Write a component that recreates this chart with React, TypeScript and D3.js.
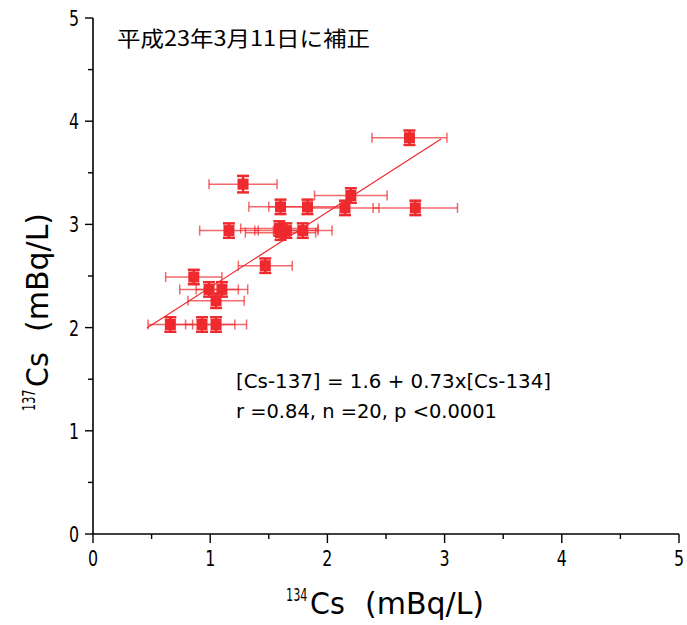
import React from "react";
import * as d3 from "d3";

const cs134 = [2.70, 1.28, 2.20, 1.60, 1.83, 2.15, 2.75, 1.16, 1.59, 1.60, 1.65, 1.79, 1.47, 0.86, 0.99, 1.10, 1.05, 0.66, 0.93, 1.05];
const cs137 = [3.84, 3.39, 3.28, 3.17, 3.17, 3.16, 3.16, 2.94, 2.96, 2.92, 2.94, 2.94, 2.60, 2.49, 2.37, 2.37, 2.26, 2.03, 2.03, 2.03];
const cs134Err = [0.32, 0.29, 0.31, 0.27, 0.33, 0.29, 0.36, 0.25, 0.33, 0.30, 0.27, 0.25, 0.23, 0.24, 0.25, 0.22, 0.24, 0.19, 0.28, 0.26];
const cs137Err = [0.07, 0.08, 0.07, 0.07, 0.07, 0.07, 0.07, 0.07, 0.07, 0.07, 0.07, 0.07, 0.07, 0.07, 0.07, 0.07, 0.07, 0.07, 0.07, 0.07];
const fitIntercept = 1.66;
const fitSlope = 0.73;
const fitRange = [0.46, 2.97];
const majorTicks = [0, 1, 2, 3, 4, 5];
const minorTicks = [0.5, 1.5, 2.5, 3.5, 4.5];
const title = "平成23年3月11日に補正";
const eqLine1 = "[Cs-137] = 1.6 + 0.73x[Cs-134]";
const eqLine2 = "r =0.84, n =20, p <0.0001";
const xTitle = ["134", "Cs", "(mBq/L)"];
const yTitle = ["137", "Cs", "(mBq/L)"];

const narrow = "'DejaVu Sans', sans-serif";

function AxisTitle({ parts, transform }: { parts: string[]; transform: string }) {
  return (
    <g transform={transform} fontFamily={narrow}>
      <g transform="translate(0,-13) scale(0.66,1)">
        <text x={0} y={0} fontSize={17}>{parts[0]}</text>
      </g>
      <g transform="translate(24,0) scale(0.95,1)">
        <text x={0} y={0} fontSize={30}>{parts[1]}</text>
      </g>
      <g transform="translate(79,0)">
        <text x={0} y={0} fontSize={30}>{parts[2]}</text>
      </g>
    </g>
  );
}

export default function App() {
  const W = 687, H = 625;
  const L = 93, R = 679, T = 18, B = 534;
  const x = d3.scaleLinear().domain([0, 5]).range([L, R]);
  const y = d3.scaleLinear().domain([0, 5]).range([B, T]);
  const red = "#ee2a2e";
  const line = d3.line<number>().x(v => x(v)).y(v => y(fitIntercept + fitSlope * v));

  return (
    <svg width={W} height={H} style={{ position: "fixed", left: 0, top: 0, background: "#fff" }}>
      {/* axes */}
      <line x1={L} y1={T} x2={L} y2={B} stroke="#000" strokeWidth={1.6} />
      <line x1={L} y1={B} x2={R} y2={B} stroke="#000" strokeWidth={1.6} />
      {majorTicks.map(t => (
        <g key={"y" + t}>
          <line x1={L - 8} x2={L} y1={y(t)} y2={y(t)} stroke="#000" strokeWidth={1.4} />
          <g transform={`translate(${L - 14},${y(t) + 8}) scale(0.72,1)`}>
            <text x={0} y={0} textAnchor="end" fontFamily={narrow} fontSize={22}>{t}</text>
          </g>
        </g>
      ))}
      {minorTicks.map(t => (
        <line key={"ym" + t} x1={L - 5} x2={L} y1={y(t)} y2={y(t)} stroke="#000" strokeWidth={1.4} />
      ))}
      {majorTicks.map(t => (
        <g key={"x" + t}>
          <line x1={x(t)} x2={x(t)} y1={B} y2={B + 9} stroke="#000" strokeWidth={1.4} />
          <g transform={`translate(${x(t)},${B + 32}) scale(0.72,1)`}>
            <text x={0} y={0} textAnchor="middle" fontFamily={narrow} fontSize={22}>{t}</text>
          </g>
        </g>
      ))}
      {minorTicks.map(t => (
        <line key={"xm" + t} x1={x(t)} x2={x(t)} y1={B} y2={B + 5} stroke="#000" strokeWidth={1.4} />
      ))}

      {/* axis titles */}
      <AxisTitle parts={xTitle} transform="translate(286,614)" />
      <AxisTitle parts={yTitle} transform="translate(48,411) rotate(-90)" />

      {/* title */}
      <text x={117} y={46} fontFamily="'Noto Sans CJK JP', sans-serif" fontSize={21} textLength={253} lengthAdjust="spacingAndGlyphs">{title}</text>

      {/* fit line */}
      <path d={line(fitRange) || ""} stroke={red} strokeWidth={1.2} fill="none" />

      {/* error bars and points */}
      {cs134.map((v, i) => {
        const cx = x(v), cy = y(cs137[i]);
        const x0 = x(v - cs134Err[i]), x1 = x(v + cs134Err[i]);
        const y0 = y(cs137[i] - cs137Err[i]), y1 = y(cs137[i] + cs137Err[i]);
        return (
          <g key={i}>
            <g stroke={red} strokeOpacity={0.7} strokeWidth={1.5}>
              <line x1={x0} x2={x1} y1={cy} y2={cy} />
              <line x1={x0} x2={x0} y1={cy - 5} y2={cy + 5} />
              <line x1={x1} x2={x1} y1={cy - 5} y2={cy + 5} />
            </g>
            <g stroke={red} strokeWidth={2.5}>
              <line x1={cx} x2={cx} y1={y0} y2={y1} />
              <line x1={cx - 6} x2={cx + 6} y1={y0} y2={y0} />
              <line x1={cx - 6} x2={cx + 6} y1={y1} y2={y1} />
            </g>
            <rect x={cx - 5.5} y={cy - 5.5} width={11} height={11} fill={red} />
          </g>
        );
      })}

      {/* annotation */}
      <text x={236} y={388} fontFamily="'DejaVu Sans', sans-serif" fontSize={19.5} textLength={315} lengthAdjust="spacingAndGlyphs">{eqLine1}</text>
      <text x={236} y={418} fontFamily="'DejaVu Sans', sans-serif" fontSize={19.5} textLength={261} lengthAdjust="spacingAndGlyphs">{eqLine2}</text>
    </svg>
  );
}
